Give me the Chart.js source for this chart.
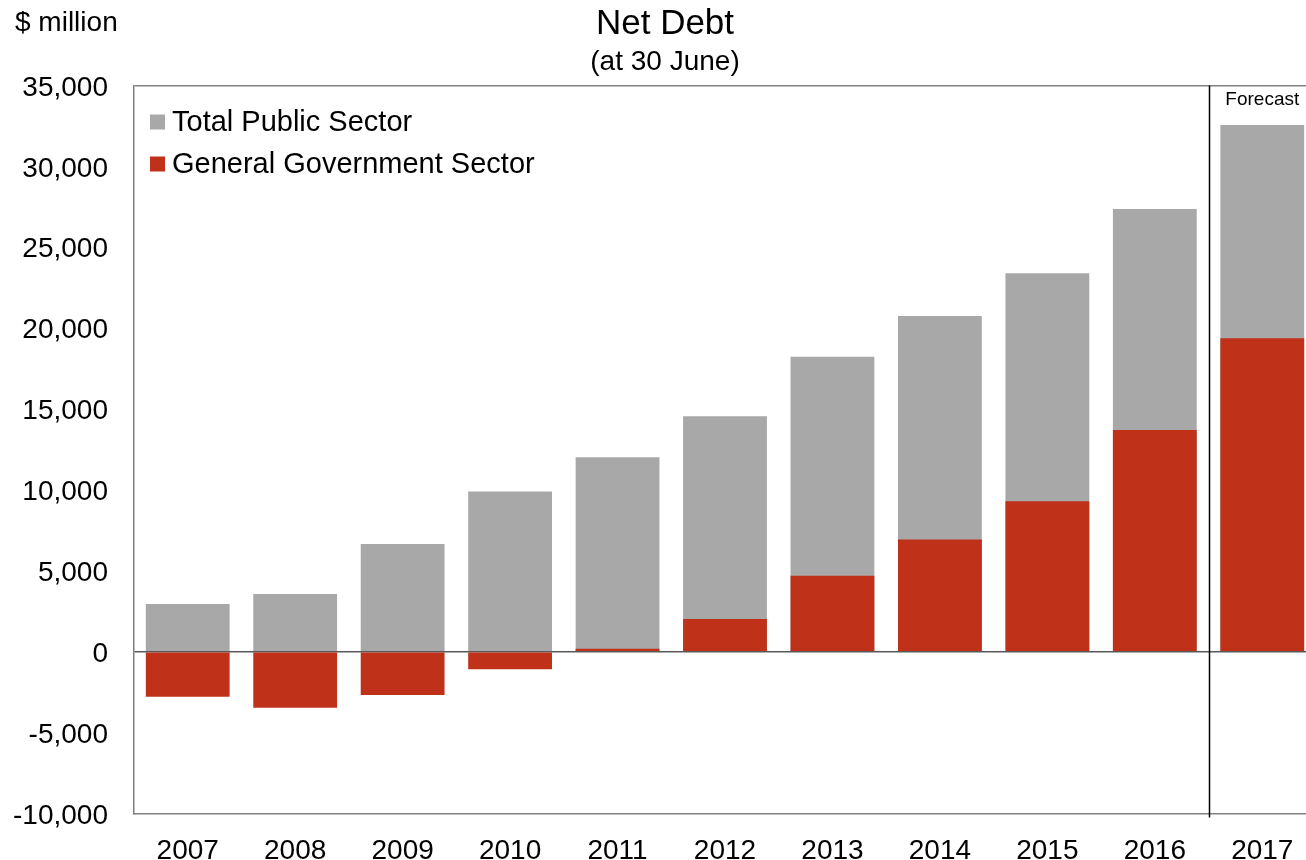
<!DOCTYPE html>
<html>
<head>
<meta charset="utf-8">
<title>Net Debt</title>
<script src="https://cdn.jsdelivr.net/npm/chart.js@4.4.1/dist/chart.umd.min.js"></script>
<style>
  html, body { margin: 0; padding: 0; overflow: hidden; background: #fff; }
  canvas { display: block; }
</style>
</head>
<body>
<canvas id="netDebt" width="1316" height="860"></canvas>
<script>
// valores ($ million, at 30 June)
const years = ['2007', '2008', '2009', '2010', '2011', '2012', '2013', '2014', '2015', '2016', '2017'];
const totalPublic = [2950, 3570, 6660, 9900, 12020, 14560, 18240, 20750, 23390, 27370, 32560];
const generalGov = [-2780, -3470, -2670, -1080, 180, 2030, 4700, 6930, 9300, 13710, 19380];
const yTicks = [-10000, -5000, 0, 5000, 10000, 15000, 20000, 25000, 30000, 35000];
const forecastFrom = '2017';

const FONT = "'Liberation Sans', Arial, sans-serif";
const GREY = '#a8a8a8';
const RED = '#bf3119';

// título, legenda e linha de previsão
const extras = {
  id: 'extras',
  afterDatasetsDraw(chart) {
    const ctx = chart.ctx;
    const area = chart.chartArea;
    const x = chart.scales.x;
    ctx.save();
    ctx.fillStyle = '#000';
    ctx.textAlign = 'center';
    ctx.textBaseline = 'middle';
    ctx.font = '35px ' + FONT;
    ctx.fillText('Net Debt', 665, 24);
    ctx.font = '28px ' + FONT;
    ctx.fillText('(at 30 June)', 665, 62);

    ctx.textAlign = 'left';
    ctx.fillText('$ million', 15, 23);

    // legenda
    ctx.font = '29px ' + FONT;
    const items = [chart.data.datasets[0], chart.data.datasets[1]];
    items.forEach((ds, i) => {
      const cy = 122 + i * 42;
      ctx.fillStyle = ds.backgroundColor;
      ctx.fillRect(150, cy - 7.5, 15, 15);
      ctx.fillStyle = '#000';
      ctx.fillText(ds.label, 172, cy + 1);
    });

    // linha de previsão
    const idx = years.indexOf(forecastFrom);
    const lx = Math.round((x.getPixelForValue(idx - 1) + x.getPixelForValue(idx)) / 2) + 0.5;
    ctx.strokeStyle = '#000';
    ctx.lineWidth = 1.5;
    ctx.beginPath();
    ctx.moveTo(lx, area.top);
    ctx.lineTo(lx, area.bottom + 4);
    ctx.stroke();

    ctx.textAlign = 'center';
    ctx.font = '19px ' + FONT;
    ctx.fillText('Forecast', x.getPixelForValue(idx), 100);
    ctx.restore();
  }
};

const ctx = document.getElementById('netDebt').getContext('2d');
const myChart = new Chart(ctx, {
  type: 'bar',
  data: {
    labels: years,
    datasets: [
      {
        label: 'Total Public Sector',
        data: totalPublic,
        backgroundColor: GREY,
        grouped: false,
        order: 2,
        categoryPercentage: 1,
        barPercentage: 0.78
      },
      {
        label: 'General Government Sector',
        data: generalGov,
        backgroundColor: RED,
        grouped: false,
        order: 1,
        categoryPercentage: 1,
        barPercentage: 0.78
      }
    ]
  },
  options: {
    responsive: false,
    animation: false,
    layout: { padding: { top: 85.5, left: 0, right: 0, bottom: 0 } },
    plugins: {
      legend: { display: false },
      title: { display: false },
      tooltip: { enabled: false }
    },
    scales: {
      x: {
        grid: { display: false, drawTicks: false },
        border: { display: true, color: '#808080', width: 1.5 },
        ticks: {
          color: '#000',
          font: { family: FONT, size: 28 },
          padding: 21,
          maxRotation: 0
        },
        afterFit(scale) { scale.height = 46.5; }
      },
      y: {
        min: -10000,
        max: 35000,
        afterBuildTicks(scale) { scale.ticks = yTicks.map(v => ({ value: v })); },
        grid: {
          drawTicks: false,
          lineWidth: 1.5,
          color(c) {
            if (c.tick && c.tick.value === 0) return '#595959';
            if (c.tick && c.tick.value === 35000) return '#808080';
            return 'rgba(0,0,0,0)';
          }
        },
        border: { display: true, color: '#808080', width: 1.5 },
        ticks: {
          color: '#000',
          font: { family: FONT, size: 28 },
          padding: 26,
          labelOffset: 2.5,
          callback: v => v.toLocaleString('en-US')
        },
        afterFit(scale) { scale.width = 134; }
      }
    }
  },
  plugins: [extras]
});
</script>
</body>
</html>
